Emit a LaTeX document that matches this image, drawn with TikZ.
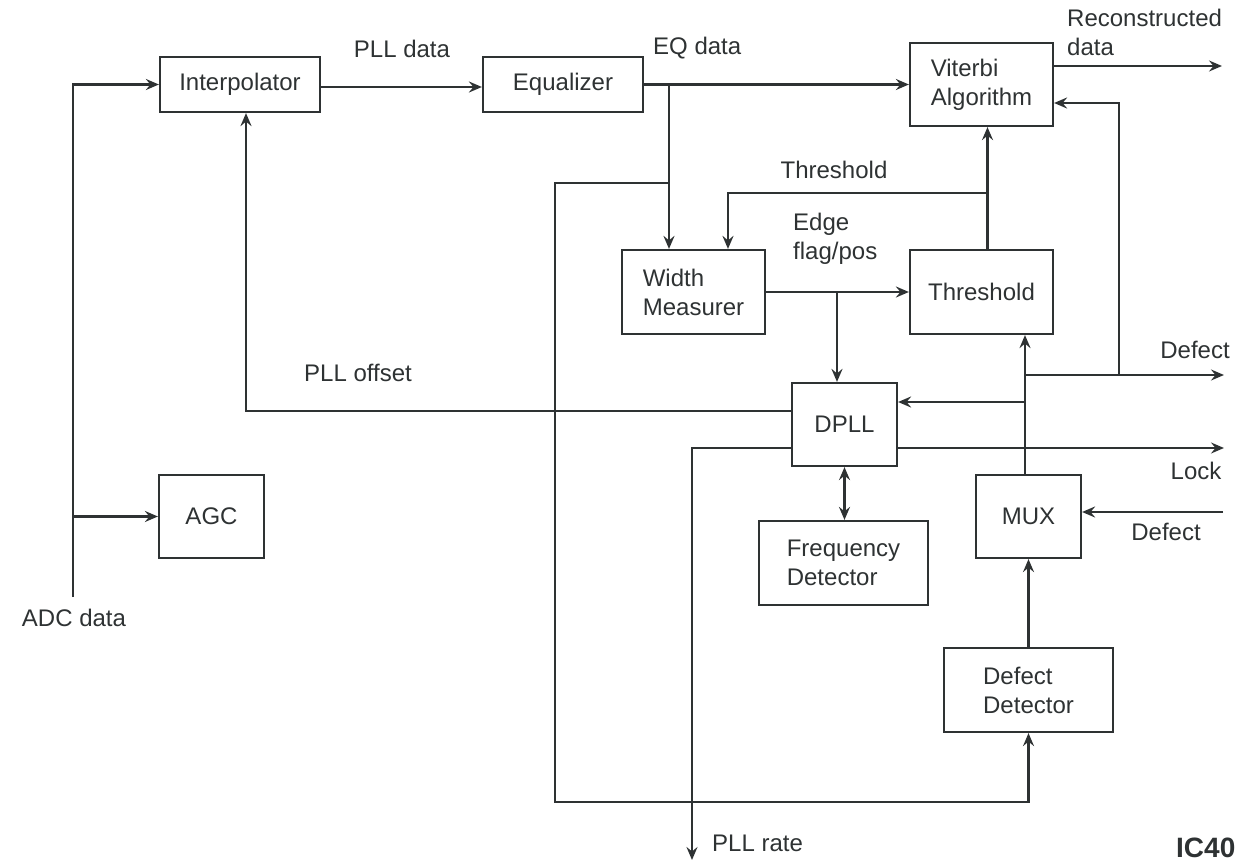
\documentclass[tikz,border=0pt]{standalone}
\usepackage{fontspec}
\setmainfont{Liberation Sans}
\usetikzlibrary{arrows.meta}
\definecolor{ink}{HTML}{2E3233}
\begin{document}
\begin{tikzpicture}[x=1pt,y=-1pt,
  every node/.style={text=ink,font=\fontsize{24}{29}\selectfont},
  blk/.style 2 args={draw=ink,line width=2.2pt,minimum width=#1pt,minimum height=#2pt,inner sep=0pt,align=left},
  lbl/.style={inner sep=0pt,align=left},
  wire/.style={draw=ink,line width=2.2pt},
  arr/.style={wire,-{Stealth[length=13pt,width=11pt,inset=4.5pt]}},
  arrb/.style={wire,{Stealth[length=13pt,width=11pt,inset=4.5pt]}-{Stealth[length=13pt,width=11pt,inset=4.5pt]}}]
\useasboundingbox (0,0) rectangle (1237,864);
% blocks
\node[blk={160}{55}]  (interp) at (240,84.5)   {Interpolator};
\node[blk={160}{55}]  (eq)     at (563,84.5)   {Equalizer};
\node[blk={143}{83}]  (vit)    at (981.5,84.5) {Viterbi\\Algorithm};
\node[blk={143}{84}]  (wm)     at (693.5,292)  {Width\\Measurer};
\node[blk={143}{84}]  (thr)    at (981.5,292)  {Threshold};
\node[blk={105}{83}]  (dpll)   at (844.5,424.5){DPLL};
\node[blk={169}{84}]  (fd)     at (843.5,563)  {Frequency\\Detector};
\node[blk={105}{83}]  (mux)    at (1028.5,516.5){MUX};
\node[blk={169}{84}]  (dd)     at (1028.5,690) {Defect\\Detector};
\node[blk={105}{83}]  (agc)    at (211.5,516.5){AGC};
% free ends and junctions
\coordinate (adc) at (73,597);
\coordinate (b1) at (669,84.5);
\coordinate (b2) at (669,183);
\coordinate (lc) at (555,802);
\coordinate (tf) at (987.5,193);
\coordinate (b3) at (837,292);
\coordinate (mtop) at (1025,475);
\coordinate (dj) at (1025,375);
\coordinate (vj) at (1119,375);
\coordinate (defout) at (1224,375);
\coordinate (dj2) at (1025,402);
\coordinate (lockend) at (1224,448);
\coordinate (rateend) at (692,860);
\coordinate (defin) at (1223,512);
\coordinate (recend) at (1222,66);
\coordinate (po) at (0,411);
% connectors
\draw[arr] (adc) |- (interp.west);
\draw[arr] (adc |- agc.west) -- (agc.west);
\draw[arr] ([yshift=-2.5pt]interp.east) -- ([yshift=-2.5pt]eq.west);
\draw[arr] (eq.east) -- (vit.west);
\draw[arr] (b1) -- (b1 |- wm.north);
\draw[arr] (b2) -| (lc) -| (dd.south);
\draw[arr] ([xshift=6pt]thr.north) -- ([xshift=6pt]vit.south);
\draw[arr] (tf) -| ([xshift=34.5pt]wm.north);
\draw[arr] (wm.east) -- (thr.west);
\draw[arr] (b3) -- (b3 |- dpll.north);
\draw[arr] (dpll.west |- po) -| ([xshift=6pt]interp.south);
\draw[arr] (mtop) -- (mtop |- thr.south);
\draw[arr] (dj) -- (defout);
\draw[arr] (vj) |- ([yshift=-18.5pt]vit.east);
\draw[arr] (dj2) -- (dj2 -| dpll.east);
\draw[arr] (dpll.east |- lockend) -- (lockend);
\draw[arr] (dpll.west |- lockend) -| (rateend);
\draw[arrb] (dpll.south) -- (dpll.south |- fd.north);
\draw[arr] (defin) -- (defin -| mux.east);
\draw[arr] (dd.north) -- (mux.south);
\draw[arr] (vit.east |- recend) -- (recend);
% labels
\node[lbl] (l1) at (402,49) {PLL data};
\node[lbl,anchor=west] (l2) at (653,48) {EQ data};
\node[lbl,anchor=west] (l3) at (1067,32) {Reconstructed\\data};
\node[lbl] (l4) at (834,170) {Threshold};
\node[lbl,anchor=west] (l5) at (793,239) {Edge\\flag/pos};
\node[lbl] (l6) at (1195,350) {Defect};
\node[lbl] (l7) at (358,373) {PLL offset};
\node[lbl] (l8) at (1196,471) {Lock};
\node[lbl] (l9) at (1166,532) {Defect};
\node[lbl] (l10) at (74,618) {ADC data};
\node[lbl,anchor=west] (l11) at (712,843) {PLL rate};
\node[lbl,anchor=west,font=\fontsize{28}{32}\selectfont\bfseries] (l12) at (1176,848) {IC40};
\end{tikzpicture}
\end{document}
